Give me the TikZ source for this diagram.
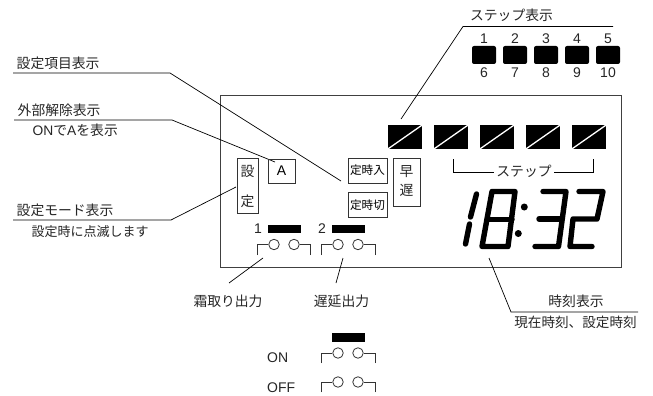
\documentclass[tikz,border=0pt]{standalone}
\usepackage{fontspec}
\setmainfont{Liberation Sans}
\newfontfamily\cjk{Noto Sans CJK JP}
\tikzset{
  x=1pt,y=-1pt,
  lead/.style={draw=black,line width=0.7pt},
  panel/.style={draw=black!75,line width=0.9pt},
  lab/.style={inner sep=0pt,font=\fontsize{13.8}{14}\cjk,text=black!85},
  num/.style={inner sep=0pt,font=\fontsize{14}{14}\selectfont,text=black!85},
  lampbox/.style={draw=black!80,line width=0.7pt,inner sep=0pt,font=\fontsize{13.8}{14}\cjk},
  smallbox/.style={lampbox,minimum width=39pt,minimum height=25pt,font=\fontsize{11.6}{12}\cjk},
  swline/.style={draw=black!80,line width=0.8pt},
  swdot/.style={circle,draw=black!80,line width=0.8pt,minimum size=10.5pt,inner sep=0pt},
  stepled/.style={fill=black,minimum width=34.5pt,minimum height=24pt,inner sep=0pt},
  keyled/.style={fill=black,rounded corners=2pt,minimum width=24pt,minimum height=18pt,inner sep=0pt},
  barled/.style={fill=black,minimum width=33pt,minimum height=8.5pt,inner sep=0pt},
  seg/.style={draw=black,line width=5.4pt,line join=round,line cap=round},
}
\begin{document}
\begin{tikzpicture}
\useasboundingbox[fill=white] (0,0) rectangle (653,396);
% main panel
\node[panel,minimum width=401pt,minimum height=172pt,inner sep=0pt] (panel) at (420.5,181) {};
% step LEDs
\foreach \n/\cx in {a/405,b/451,c/497,d/543,e/589}{
  \node[stepled] (s\n) at (\cx,137) {};
  \draw[white,line width=1.3pt] (s\n.south west) -- (s\n.north east);
}
% key of the steps
\foreach \n/\cx/\t/\b in {1/484/1/6,2/515/2/7,3/546/3/8,4/577/4/9,5/608/5/10}{
  \node[keyled] (k\n) at (\cx,55) {};
  \node[num] at (\cx,38.5) {\t};
  \node[num] at (\cx,72.5) {\b};
}
\node[lab] (steptitle) at (511.5,15) {ステップ表示};
\coordinate (st1) at (613,26.5);
\coordinate (st2) at (463,26.5);
\coordinate (st3) at (401,119);
\draw[lead] (st1) -- (st2) -- (st3);
% left labels
\node[lab,anchor=west] (l1) at (16.5,63.5) {設定項目表示};
\coordinate (a1) at (13,73); \coordinate (a2) at (170,73); \coordinate (a3) at (341,181);
\draw[lead] (a1) -- (a2) -- (a3);
\node[lab,anchor=west] (l2) at (17.5,110) {外部解除表示};
\coordinate (b1) at (14,120); \coordinate (b2) at (172,120); \coordinate (b3) at (275,162);
\draw[lead] (b1) -- (b2) -- (b3);
\node[lab,anchor=west] (l2b) at (32.5,130.5) {{\fontsize{13.8}{14}\rmfamily ON}で{\fontsize{13.8}{14}\rmfamily A}を表示};
\node[lab,anchor=west] (l3) at (16.5,210) {設定モード表示};
\coordinate (c1) at (13,220); \coordinate (c2) at (171,220); \coordinate (c3) at (236,187);
\draw[lead] (c1) -- (c2) -- (c3);
\node[lab,anchor=west,font=\fontsize{13}{13}\cjk] (l3b) at (31.5,231.5) {設定時に点滅します};
% lamp boxes
\node[lampbox,minimum width=21pt,minimum height=55pt] (setbox) at (247.5,185.5) {};
\node[lab] at (247.5,171) {設}; \node[lab] at (247.5,201) {定};
\node[lampbox,minimum width=27pt,minimum height=24pt,font=\fontsize{14}{14}\selectfont] (abox) at (281.5,171) {A};
\node[smallbox] (onbox) at (367.5,170.5) {定時入};
\node[smallbox] (offbox) at (367.5,205) {定時切};
\node[lampbox,minimum width=27pt,minimum height=48pt,align=center] (hbox) at (406.5,182) {};
\node[lab] at (406.5,172) {早}; \node[lab] at (406.5,190) {遅};
% step bracket
\node[lab,inner xsep=2.5pt] (steplab) at (524,171.5) {ステップ};
\coordinate (br1) at (453,159); \coordinate (br2) at (453,172); \coordinate (br3) at (593,159); \coordinate (br4) at (593,172);
\draw[lead] (br1) -- (br2) -- (steplab.west |- br2);
\draw[lead] (br3) -- (br4) -- (steplab.east |- br4);
% digits
\draw[seg] (476.5,194) -- (470.5,217);
\draw[seg] (469.5,224) -- (465.5,244);
\draw[seg] (492,191.5) -- (515,191.5) -- (508,246.5) -- (482,246.5) -- cycle;
\draw[seg] (487,219.5) -- (512,219.5);
\fill (524.3,207) circle (3.5);
\fill (518.3,233.5) circle (3.5);
\draw[seg] (543,191.5) -- (566,191.5) -- (558.5,246.5) -- (535,246.5);
\draw[seg] (539,219) -- (561,219);
\draw[seg] (579,191.5) -- (603,191.5) -- (597,219) -- (573,219) -- (570,246.5) -- (592,246.5);
% relay outputs
\node[num] (n1) at (258,228.5) {1};
\node[barled] (bar1) at (284.5,229) {};
\node[num] (n2) at (322,228.5) {2};
\node[barled] (bar2) at (348.5,229) {};
\node[barled] (bar3) at (348.5,337.5) {};
\foreach \n/\xa/\xb/\xc/\xd/\ya/\yb in {p/257/274/294/310/244.5/255,q/321/338/358/375/244.5/255,r/321/338/358/375/353/363,s/321/338/358/375/382/392}{
  \node[swdot] (\n l) at (\xb,\ya) {};
  \node[swdot] (\n r) at (\xc,\ya) {};
  \coordinate (\n a) at (\xa,\ya); \coordinate (\n b) at (\xa,\yb);
  \coordinate (\n c) at (\xd,\ya); \coordinate (\n d) at (\xd,\yb);
  \draw[swline] (\n b) -- (\n a) -- (\n l);
  \draw[swline] (\n d) -- (\n c) -- (\n r);
}
\node[lab] (defrost) at (228,301) {霜取り出力};
\coordinate (d1) at (263,258); \coordinate (d2) at (229,283);
\draw[lead] (d1) -- (d2);
\node[lab] (delay) at (341.5,301) {遅延出力};
\coordinate (e1) at (343,258); \coordinate (e2) at (336,283);
\draw[lead] (e1) -- (e2);
\node[lab] (tlab) at (576,301) {時刻表示};
\node[lab,font=\fontsize{13.6}{14}\cjk] (tlab2) at (575.5,322) {現在時刻、設定時刻};
\coordinate (t1) at (489,258); \coordinate (t2) at (511,312); \coordinate (t3) at (638,312);
\draw[lead] (t1) -- (t2) -- (t3);
\node[num,anchor=west] (on) at (267,358) {ON};
\node[num,anchor=west] (off) at (267,388) {OFF};
\end{tikzpicture}
\end{document}
